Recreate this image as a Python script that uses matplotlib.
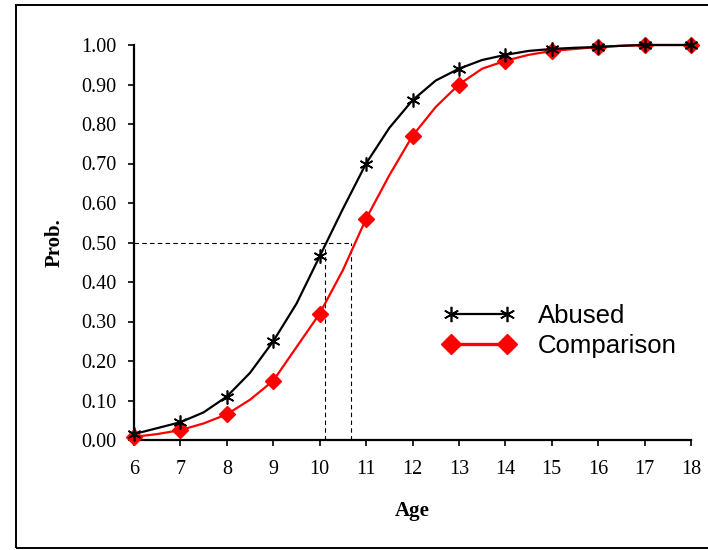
import matplotlib
matplotlib.use("Agg")
import matplotlib.pyplot as plt
from matplotlib.patches import Rectangle
from matplotlib.lines import Line2D
from matplotlib.legend_handler import HandlerLine2D

# Ages at half-year steps (markers only at whole years)
ages = [6, 6.5, 7, 7.5, 8, 8.5, 9, 9.5, 10, 10.5, 11, 11.5, 12, 12.5,
        13, 13.5, 14, 14.5, 15, 15.5, 16, 16.5, 17, 17.5, 18]
abused = [0.015, 0.030, 0.045, 0.070, 0.110, 0.170, 0.250, 0.345, 0.465, 0.585,
          0.700, 0.790, 0.860, 0.910, 0.940, 0.962, 0.975, 0.985, 0.990, 0.993,
          0.995, 0.998, 1.000, 1.000, 1.000]
comparison = [0.008, 0.015, 0.025, 0.042, 0.065, 0.102, 0.150, 0.235, 0.320, 0.430,
              0.560, 0.670, 0.770, 0.843, 0.900, 0.940, 0.960, 0.975, 0.985, 0.990,
              0.995, 0.998, 1.000, 1.000, 1.000]
xticks = list(range(6, 19))
yticks = [0.0, 0.1, 0.2, 0.3, 0.4, 0.5, 0.6, 0.7, 0.8, 0.9, 1.0]
half_abused = 10.12
half_comparison = 10.68

fig = plt.figure(figsize=(7.08, 5.5), dpi=100)
ax = fig.add_axes([134/708, 110/550, (691-134)/708, (440-45)/550])

ax.plot(ages, comparison, color="red", lw=1.6, marker="D", markersize=8.5,
        markevery=2, markeredgecolor="red", markerfacecolor="red",
        label="Comparison", zorder=3, clip_on=False)
ax.plot(ages, abused, color="black", lw=1.6, marker=(6, 2, 0), markersize=10,
        markevery=2, markeredgewidth=1.2, markeredgecolor="black",
        label="Abused", zorder=4, clip_on=False)

# dashed guide lines at 0.5
ax.plot([6, half_comparison], [0.5, 0.5], color="black", lw=0.8, ls=(0, (4, 3)), zorder=2)
ax.plot([half_abused, half_abused], [0, 0.5], color="black", lw=0.8, ls=(0, (4, 3)), zorder=2)
ax.plot([half_comparison, half_comparison], [0, 0.5], color="black", lw=0.8, ls=(0, (4, 3)), zorder=2)

ax.set_xlim(6, 18)
ax.set_ylim(0, 1.0)
ax.set_xticks(xticks)
ax.set_yticks(yticks)
ax.set_yticklabels([f"{v:.2f}" for v in yticks])
for s in ["top", "right"]:
    ax.spines[s].set_visible(False)
for s in ["left", "bottom"]:
    ax.spines[s].set_linewidth(1.6)
ax.tick_params(direction="out", length=4.5, width=1.2, labelsize=14.5)
ax.tick_params(axis="x", pad=10)
ax.tick_params(axis="y", pad=8)
for lab in ax.get_xticklabels() + ax.get_yticklabels():
    lab.set_family("Liberation Serif")

ax.set_xlabel("Age", family="Liberation Serif", fontweight="bold", fontsize=15, labelpad=16)
ax.set_ylabel("Prob.", family="Liberation Serif", fontweight="bold", fontsize=15, labelpad=12)

h = [Line2D([], [], color="black", lw=1.6, marker=(6, 2, 0), markersize=11,
            markeredgewidth=1.2, markeredgecolor="black"),
     Line2D([], [], color="red", lw=2.4, marker="D", markersize=10,
            markerfacecolor="red", markeredgecolor="red")]
leg = fig.legend(h, ["Abused", "Comparison"], loc="center left",
                 bbox_to_anchor=(432/708, 1 - 331/550), bbox_transform=fig.transFigure,
                 frameon=False, numpoints=2, borderpad=0, borderaxespad=0,
                 handlelength=3.66, handletextpad=0.45, labelspacing=0.25,
                 handler_map={Line2D: HandlerLine2D(marker_pad=0.75)},
                 prop={"family": "Liberation Sans", "size": 18.5})

fig.patches.append(Rectangle((16/708, 2/550), 1.2, (545-2)/550, transform=fig.transFigure,
                             fill=False, edgecolor="black", lw=1.4))

fig.savefig("out.png", dpi=100)
